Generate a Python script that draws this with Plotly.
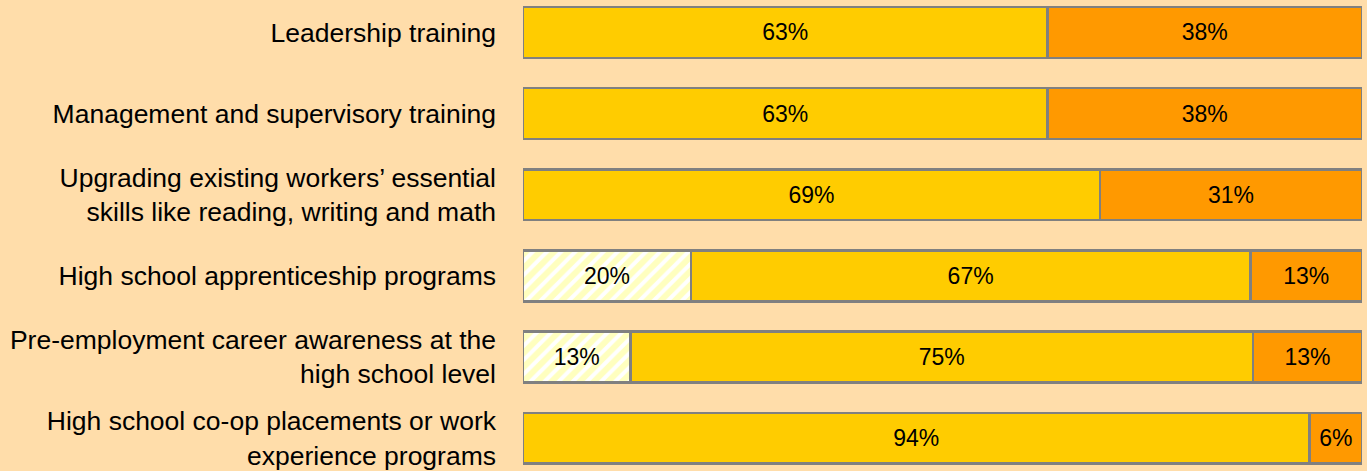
import plotly.graph_objects as go

categories = [
    "Leadership training",
    "Management and supervisory training",
    "Upgrading existing workers’ essential<br>skills like reading, writing and math",
    "High school apprenticeship programs",
    "Pre-employment career awareness at the<br>high school level",
    "High school co-op placements or work<br>experience programs",
]
hatched_vals = [None, None, None, 20.0, 12.8, None]
gold_vals = [62.5, 62.5, 68.75, 66.7, 74.2, 93.75]
orange_vals = [37.5, 37.5, 31.25, 13.3, 13.0, 6.25]
hatched_txt = ["", "", "", "20%", "13%", ""]
gold_txt = ["63%", "63%", "69%", "67%", "75%", "94%"]
orange_txt = ["38%", "38%", "31%", "13%", "13%", "6%"]

FONT = "Liberation Sans, Arial, Helvetica, sans-serif"
BG = "#FFDDAA"
EDGE = dict(color="#808080", width=2.5)
TXT = dict(size=23, color="black", family=FONT)

fig = go.Figure()
fig.add_trace(go.Bar(
    y=categories, x=hatched_vals, orientation="h", text=hatched_txt,
    marker=dict(color="white", line=EDGE,
                pattern=dict(shape="/", fgcolor="#FFFF80", bgcolor="white",
                             size=10, solidity=0.6)),
    textposition="inside", insidetextanchor="middle", textangle=0,
    insidetextfont=TXT, constraintext="none", hoverinfo="skip",
))
fig.add_trace(go.Bar(
    y=categories, x=gold_vals, orientation="h", text=gold_txt,
    marker=dict(color="#FFCC00", line=EDGE),
    textposition="inside", insidetextanchor="middle", textangle=0,
    insidetextfont=TXT, constraintext="none", hoverinfo="skip",
))
fig.add_trace(go.Bar(
    y=categories, x=orange_vals, orientation="h", text=orange_txt,
    marker=dict(color="#FF9900", line=EDGE),
    textposition="inside", insidetextanchor="middle", textangle=0,
    insidetextfont=TXT, constraintext="none", hoverinfo="skip",
))

fig.update_layout(
    width=1367, height=471,
    barmode="stack", bargap=0.374,
    paper_bgcolor=BG, plot_bgcolor=BG,
    margin=dict(l=523, r=5, t=0, b=0),
    showlegend=False,
    font=dict(family=FONT, color="black"),
    xaxis=dict(range=[0, 100], showticklabels=False, showgrid=False,
               zeroline=False, showline=False, fixedrange=True),
    yaxis=dict(type="category", range=[5.38, -0.399], showgrid=False,
               zeroline=False, showline=False, ticks="",
               ticklabelstandoff=26, fixedrange=True,
               tickfont=dict(size=26.5, family=FONT, color="black")),
)

fig.write_html(
    "out.html",
    config={"displayModeBar": False},
    post_script="document.body.style.margin='0';document.body.style.padding='0';"
                "document.body.style.background='" + BG + "';",
)
